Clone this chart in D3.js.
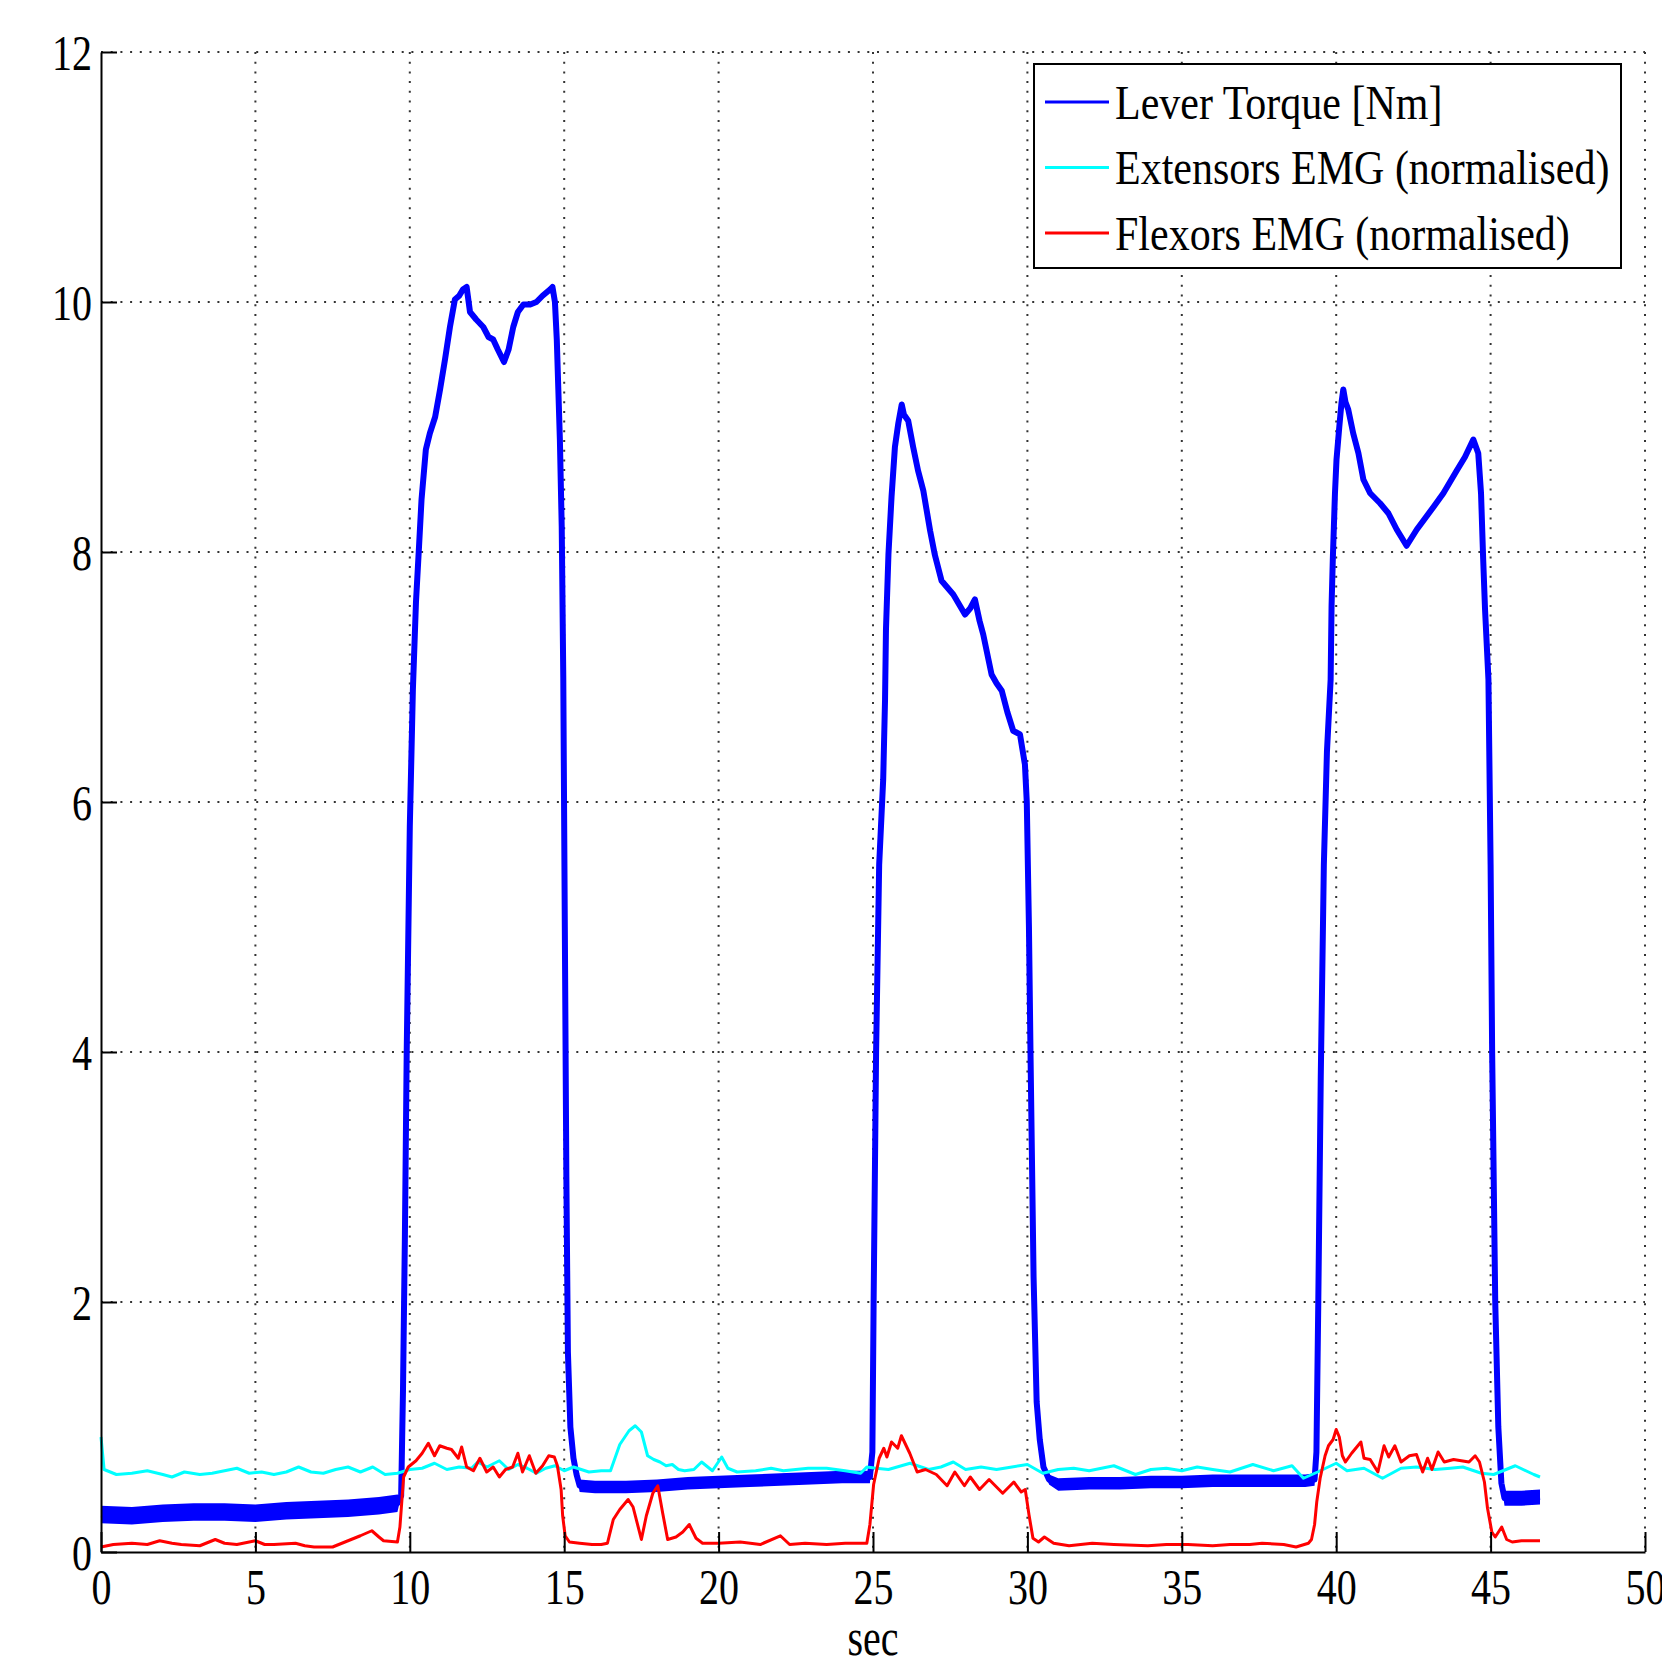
<!DOCTYPE html>
<html><head><meta charset="utf-8">
<script src="https://cdn.jsdelivr.net/npm/d3@7"></script>
<style>html,body{margin:0;padding:0;background:#fff}svg{display:block}</style>
</head><body>
<svg id="chart" width="1662" height="1673"></svg>
<script>
// ---------- data ----------
const xTicks = [0,5,10,15,20,25,30,35,40,45,50];
const yTicks = [0,2,4,6,8,10,12];
const xLabel = "sec";
const seriesNames = ["Lever Torque [Nm]", "Extensors EMG (normalised)", "Flexors EMG (normalised)"];
const seriesColors = ["#0000ff", "#00ffff", "#ff0000"];

const torqueT = [0,1,2,3,4,5,6,7,8,9,9.6,9.72,9.78,9.84,9.9,10.0,10.1,10.2,10.3,10.38,10.52,10.65,10.82,10.98,11.14,11.3,11.46,11.6,11.72,11.84,11.95,12.15,12.38,12.55,12.7,12.85,13.05,13.2,13.35,13.5,13.68,13.9,14.1,14.3,14.54,14.62,14.7,14.76,14.81,14.86,14.92,14.97,15.02,15.07,15.12,15.2,15.3,15.4,15.5,16,17,18,19,20,21,22,23,24,24.9,24.98,25.02,25.1,25.2,25.33,25.39,25.42,25.5,25.6,25.71,25.82,25.93,26.0,26.14,26.3,26.46,26.63,26.85,27.0,27.22,27.6,27.98,28.15,28.3,28.45,28.57,28.84,29.0,29.17,29.35,29.54,29.76,29.92,29.98,30.05,30.1,30.2,30.3,30.4,30.52,30.7,31,32,33,34,35,36,37,38,39,39.3,39.36,39.42,39.5,39.6,39.7,39.82,39.85,39.89,39.96,40.01,40.1,40.17,40.23,40.3,40.39,40.55,40.72,40.88,41.1,41.42,41.69,41.96,42.28,42.61,42.88,43.15,43.47,43.9,44.17,44.44,44.6,44.69,44.76,44.82,44.93,45.0,45.05,45.15,45.25,45.35,45.45,46,46.6];
const torqueV = [0.30,0.29,0.31,0.32,0.32,0.31,0.33,0.34,0.35,0.37,0.39,0.45,1.3,2.5,4.0,5.8,6.9,7.6,8.05,8.42,8.82,8.95,9.08,9.30,9.54,9.80,10.02,10.05,10.10,10.12,9.92,9.86,9.80,9.72,9.70,9.62,9.52,9.62,9.80,9.92,9.98,9.98,10.0,10.05,10.10,10.12,10.0,9.7,9.3,8.9,8.2,7.0,5.0,3.0,1.6,1.0,0.75,0.62,0.53,0.52,0.52,0.53,0.55,0.56,0.57,0.58,0.59,0.60,0.60,0.8,2.0,4.0,5.5,6.18,6.82,7.38,7.98,8.44,8.84,9.03,9.18,9.10,9.05,8.84,8.65,8.49,8.17,7.98,7.77,7.66,7.50,7.55,7.62,7.45,7.34,7.02,6.95,6.89,6.72,6.57,6.54,6.30,6.0,5.0,4.0,2.2,1.2,0.9,0.68,0.58,0.54,0.55,0.55,0.56,0.56,0.57,0.57,0.57,0.57,0.58,0.8,2.0,3.8,5.5,6.4,6.98,7.57,7.94,8.47,8.74,9.0,9.19,9.30,9.20,9.14,8.95,8.79,8.58,8.47,8.39,8.31,8.18,8.05,8.18,8.27,8.36,8.47,8.65,8.76,8.90,8.79,8.47,7.94,7.54,6.98,5.5,4.0,2.0,1.0,0.55,0.43,0.43,0.44];
// half-width of the noise band of the torque trace, one per sample above
const torqueSpread = [
  0.07,0.07,0.07,0.07,0.07,0.07,0.07,0.07,0.07,0.07,0.07,
  0,0,0,0,0,0,0,
  0.01,0.015,
  0.02,0.02,0.02,0.02,0.02,0.02,0.02,0.02,0.02,0.02,0.02,0.02,0.02,0.02,0.02,0.02,0.02,0.02,0.02,0.02,0.02,0.02,0.02,0.02,0.02,0.02,0.015,
  0,0,0,0,0,0,0,0,0,0,0,
  0.05,0.05,0.05,0.05,0.05,0.05,0.05,0.05,0.05,0.05,0.05,
  0,0,0,0,0,0,0,
  0.02,0.02,0.02,0.02,0.02,0.02,0.02,0.02,0.02,0.02,0.02,0.02,0.02,0.02,0.02,0.02,0.02,0.02,0.02,0.02,0.02,0.02,0.02,0.02,0.02,0.02,
  0,
  0,0,0,0,0,0,
  0.04,
  0.05,0.05,0.05,0.05,0.05,0.05,0.05,0.05,0.05,0.05,
  0,0,0,0,0,0,0,
  0.02,0.02,0.02,0.02,0.02,0.02,0.02,0.02,0.02,0.02,0.02,0.02,0.02,0.02,0.02,0.02,0.02,0.02,0.02,0.02,0.02,0.02,0.02,0.02,0.02,0.02,0.02,
  0,0,0,0,0,0,
  0.06,0.06,0.06];

const extT = [0,0.1,0.5,1,1.5,2,2.3,2.7,3.2,3.6,4.0,4.4,4.8,5.2,5.6,6.0,6.4,6.8,7.2,7.6,8.0,8.4,8.8,9.2,9.6,10.0,10.4,10.8,11.2,11.6,12.0,12.2,12.5,12.9,13.2,13.5,13.8,14.1,14.4,14.7,15.0,15.3,15.8,16.2,16.5,16.8,17.1,17.3,17.5,17.7,17.9,18.1,18.3,18.5,18.7,18.9,19.2,19.45,19.8,20.1,20.3,20.6,21.2,21.7,22.1,22.5,22.9,23.5,24.1,24.6,24.8,25.1,25.5,26.2,26.8,27.2,27.6,28.0,28.5,29.0,29.5,30.0,30.5,31.0,31.5,32.0,32.8,33.5,34.0,34.5,35.0,35.5,36.0,36.56,37.3,37.97,38.57,38.94,39.4,40.0,40.35,40.9,41.5,42.1,42.6,43.2,43.7,44.1,44.7,45.1,45.8,46.4,46.6];
const extV = [0.92,0.66,0.62,0.63,0.65,0.62,0.60,0.64,0.62,0.63,0.65,0.67,0.63,0.64,0.62,0.64,0.68,0.64,0.63,0.66,0.68,0.64,0.68,0.62,0.63,0.66,0.67,0.71,0.66,0.68,0.67,0.72,0.68,0.73,0.66,0.70,0.67,0.63,0.67,0.69,0.65,0.68,0.64,0.65,0.65,0.86,0.97,1.01,0.96,0.77,0.74,0.72,0.69,0.70,0.66,0.65,0.66,0.72,0.65,0.76,0.67,0.64,0.65,0.67,0.65,0.66,0.67,0.67,0.65,0.63,0.68,0.67,0.66,0.71,0.66,0.68,0.72,0.66,0.68,0.66,0.68,0.70,0.63,0.66,0.67,0.65,0.69,0.62,0.66,0.67,0.65,0.68,0.66,0.64,0.70,0.65,0.69,0.59,0.64,0.71,0.65,0.67,0.59,0.67,0.68,0.66,0.67,0.68,0.63,0.62,0.69,0.62,0.60];

const flexT = [0,0.4,1.0,1.5,1.9,2.3,2.6,3.2,3.7,4.0,4.4,5.0,5.3,5.6,6.3,6.6,6.9,7.5,8.0,8.4,8.77,9.0,9.15,9.6,9.68,9.8,9.95,10.2,10.4,10.6,10.8,10.97,11.2,11.35,11.57,11.68,11.84,12.06,12.27,12.49,12.7,12.9,13.1,13.33,13.5,13.65,13.87,14.08,14.3,14.5,14.68,14.78,14.9,14.95,15.03,15.17,15.5,15.9,16.2,16.4,16.59,16.8,17.07,17.23,17.5,17.66,17.87,18.03,18.19,18.35,18.62,18.84,19.05,19.27,19.48,20.0,20.7,21.35,22.0,22.3,22.8,23.5,24.1,24.65,24.8,24.9,25.02,25.2,25.35,25.45,25.6,25.8,25.92,26.19,26.43,26.7,27.05,27.4,27.65,27.96,28.15,28.45,28.76,29.0,29.2,29.56,29.8,29.93,30.05,30.18,30.36,30.55,30.85,31.35,32.1,32.8,33.9,34.5,35.2,36.0,36.56,37.2,37.6,38.3,38.7,39.1,39.2,39.3,39.37,39.48,39.64,39.75,39.9,40.0,40.1,40.2,40.3,40.5,40.8,40.9,41.1,41.35,41.55,41.7,41.9,42.1,42.37,42.6,42.8,42.96,43.1,43.3,43.5,43.8,44.3,44.5,44.64,44.8,44.9,45.04,45.15,45.36,45.52,45.7,46.0,46.5,46.6];
const flexV = [0.04,0.06,0.07,0.06,0.09,0.07,0.06,0.05,0.10,0.07,0.06,0.09,0.06,0.06,0.07,0.05,0.04,0.04,0.09,0.13,0.17,0.12,0.09,0.08,0.20,0.60,0.68,0.73,0.79,0.87,0.77,0.85,0.83,0.82,0.75,0.84,0.68,0.65,0.75,0.64,0.68,0.60,0.66,0.68,0.79,0.64,0.77,0.63,0.69,0.77,0.76,0.69,0.50,0.29,0.13,0.08,0.07,0.06,0.06,0.07,0.26,0.34,0.42,0.36,0.10,0.29,0.47,0.53,0.31,0.10,0.12,0.16,0.22,0.11,0.07,0.07,0.08,0.06,0.13,0.06,0.07,0.06,0.07,0.07,0.07,0.22,0.54,0.75,0.83,0.76,0.88,0.83,0.93,0.79,0.64,0.66,0.62,0.53,0.64,0.53,0.60,0.50,0.58,0.52,0.47,0.56,0.48,0.50,0.30,0.11,0.08,0.12,0.07,0.05,0.07,0.06,0.05,0.06,0.06,0.05,0.06,0.06,0.07,0.06,0.04,0.07,0.10,0.22,0.40,0.59,0.77,0.85,0.90,0.98,0.92,0.77,0.72,0.79,0.88,0.75,0.74,0.64,0.85,0.76,0.85,0.72,0.77,0.78,0.64,0.75,0.66,0.80,0.72,0.74,0.72,0.77,0.72,0.56,0.35,0.16,0.12,0.20,0.10,0.08,0.09,0.09,0.09];

// ---------- drawing ----------
const svg = d3.select("#chart");
svg.append("rect").attr("width",1662).attr("height",1673).attr("fill","#fff");
const FONT = "'Liberation Serif','Times New Roman',Times,serif";

const x = d3.scaleLinear().domain([0,50]).range([101,1645]);
const y = d3.scaleLinear().domain([0,12]).range([1552,52]);

// grid
const grid = svg.append("g").attr("stroke","#333").attr("stroke-width",2).attr("stroke-dasharray","2,7.7");
grid.selectAll("line.gx").data(xTicks.filter(d=>d>0)).join("line").attr("class","gx")
  .attr("x1",d=>x(d)).attr("x2",d=>x(d)).attr("y1",y(12)).attr("y2",y(0));
grid.selectAll("line.gy").data(yTicks.filter(d=>d>0)).join("line").attr("class","gy")
  .attr("x1",x(0)).attr("x2",x(50)).attr("y1",d=>y(d)).attr("y2",d=>y(d));

// series
const torque = torqueT.map((t,i)=>({t, v:torqueV[i], s:(torqueSpread[i]||0)}));
const ext = extT.map((t,i)=>({t, v:extV[i]}));
const flex = flexT.map((t,i)=>({t, v:flexV[i]}));

svg.append("path").datum(torque)
  .attr("fill", seriesColors[0]).attr("stroke","none")
  .attr("d", d3.area().x(d=>x(d.t)).y0(d=>y(d.v - d.s)).y1(d=>y(d.v + d.s)));
const line = d3.line().x(d=>x(d.t)).y(d=>y(d.v));
svg.append("path").datum(torque).attr("fill","none").attr("stroke",seriesColors[0])
  .attr("stroke-width",6).attr("stroke-linejoin","round").attr("d",line);
svg.append("path").datum(ext).attr("fill","none").attr("stroke",seriesColors[1])
  .attr("stroke-width",3).attr("stroke-linejoin","round").attr("d",line);
svg.append("path").datum(flex).attr("fill","none").attr("stroke",seriesColors[2])
  .attr("stroke-width",3).attr("stroke-linejoin","round").attr("d",line);

// axes
const gx = svg.append("g").attr("transform",`translate(0,${y(0)})`)
  .call(d3.axisBottom(x).tickValues(xTicks).tickSize(-20).tickSizeOuter(0));
const gy = svg.append("g").attr("transform",`translate(${x(0)},0)`)
  .call(d3.axisLeft(y).tickValues(yTicks).tickSize(-16).tickSizeOuter(0));
[gx,gy].forEach(g=>{
  g.attr("font-family",FONT).attr("font-size",40);
  g.select(".domain").attr("stroke","#000").attr("stroke-width",2);
  g.selectAll(".tick line").attr("stroke","#000").attr("stroke-width",2);
  g.selectAll(".tick text").attr("fill","#000");
});
gx.selectAll(".tick text").attr("dy",null).attr("y",52/1.25).attr("transform","scale(1,1.25)");
gy.selectAll(".tick text").attr("x",-9).attr("dy","0.34em").attr("transform","scale(1,1.25)");

// x label
svg.append("text").attr("font-family",FONT).attr("font-size",40).attr("text-anchor","middle")
  .attr("transform",`translate(${(x(0)+x(50))/2},1655) scale(1,1.3)`).text(xLabel);

// legend
const lg = svg.append("g");
lg.append("rect").attr("x",1034).attr("y",64).attr("width",587).attr("height",204)
  .attr("fill","#fff").attr("stroke","#000").attr("stroke-width",2);
const rows = [102,167.5,233];
seriesNames.forEach((name,i)=>{
  lg.append("line").attr("x1",1045).attr("x2",1109).attr("y1",rows[i]).attr("y2",rows[i])
    .attr("stroke",seriesColors[i]).attr("stroke-width",3);
  lg.append("text").attr("font-family",FONT).attr("font-size",42)
    .attr("transform",`translate(1115,${rows[i]+16.5}) scale(1,1.18)`).text(name);
});
</script>
</body></html>
